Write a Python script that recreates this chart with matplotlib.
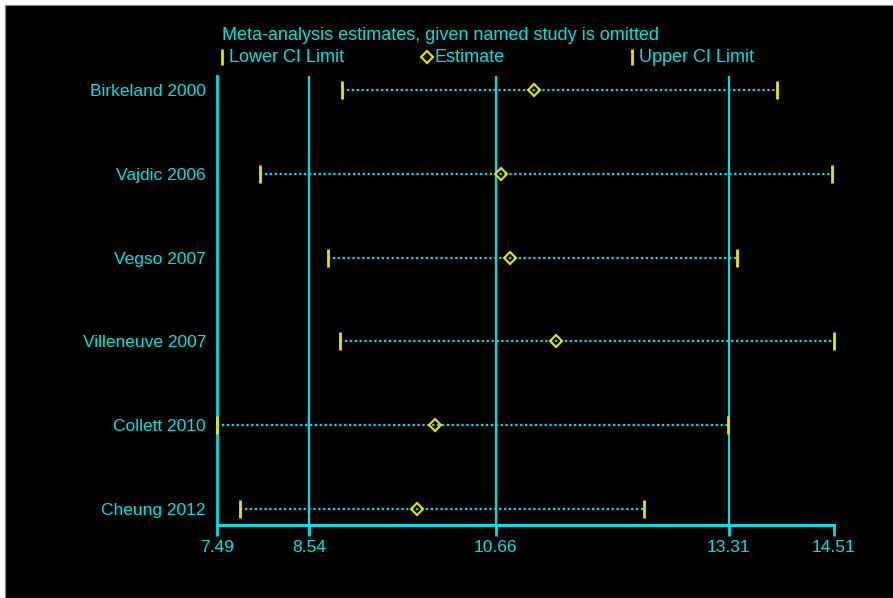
import matplotlib
matplotlib.use("Agg")
import matplotlib.pyplot as plt
from matplotlib.patches import Rectangle

# data
studies = ["Birkeland 2000", "Vajdic 2006", "Vegso 2007",
           "Villeneuve 2007", "Collett 2010", "Cheung 2012"]
lower = [8.91, 7.98, 8.75, 8.89, 7.49, 7.75]
estimate = [11.10, 10.72, 10.82, 11.35, 9.97, 9.77]
upper = [13.86, 14.49, 13.41, 14.51, 13.30, 12.35]
ticks = [7.49, 8.54, 10.66, 13.31, 14.51]
ref_lines = [8.54, 10.66, 13.31]

cyan = "#00e0e0"
yellow = "#e6e600"
plt.rcParams["font.family"] = ["Liberation Sans", "DejaVu Sans"]
fs = 12.5

W, H = 893, 598
fig = plt.figure(figsize=(W / 100, H / 100), dpi=100, facecolor="white")
# black panel behind everything
fig.patches.append(Rectangle((5 / W, 0), 1, 1 - 5 / H, transform=fig.transFigure,
                             facecolor="black", edgecolor="#888888", lw=0.8,
                             zorder=-10))

ax = fig.add_axes([217 / W, (H - 525) / H, 617 / W, (525 - 76) / H])
ax.set_facecolor("none")
ax.set_xlim(7.49, 14.51)
ax.set_ylim(0.809, 6.167)
for s in ["top", "right", "left"]:
    ax.spines[s].set_visible(False)
ax.spines["bottom"].set_color(cyan)
ax.spines["bottom"].set_linewidth(2.2)

ax.axvline(7.49, color=cyan, lw=2, clip_on=False)
for v in ref_lines:
    ax.axvline(v, color=cyan, lw=1.6)

ys = [6 - i for i in range(len(studies))]
for y, lo, est, up in zip(ys, lower, estimate, upper):
    ax.plot([lo, up], [y, y], color=cyan, lw=1.6, ls=(0, (1, 1.2)), zorder=2)
    ax.plot([lo, up], [y, y], ls="none", marker="|", ms=13, mew=2,
            color=yellow, zorder=3, clip_on=False)
    ax.plot(est, y, ls="none", marker="D", ms=6.5, mfc="none", mec=yellow,
            mew=1.5, zorder=4)

ax.set_yticks(ys)
ax.set_yticklabels(studies, color=cyan, fontsize=fs)
ax.tick_params(axis="y", length=0, pad=8)
ax.set_xticks(ticks)
ax.set_xticklabels([f"{t:.2f}" for t in ticks], color=cyan, fontsize=fs)
ax.tick_params(axis="x", length=8, width=2, color=cyan, direction="out", pad=3)

# title and legend
fig.text(222 / W, 1 - 35 / H, "Meta-analysis estimates, given named study is omitted",
         color=cyan, fontsize=13, va="center", ha="left")
ly = 1 - 57 / H
for mx, mk, label in [(222, "|", "Lower CI Limit"), (427, "D", "Estimate"),
                      (632, "|", "Upper CI Limit")]:
    if mk == "|":
        fig.lines.append(plt.Line2D([mx / W], [ly], marker="|", ms=12, mew=2,
                                    color=yellow, transform=fig.transFigure))
    else:
        fig.lines.append(plt.Line2D([mx / W], [ly], marker="D", ms=6, mfc="none",
                                    mec=yellow, mew=1.5, transform=fig.transFigure))
    fig.text((mx + 7) / W, ly, label, color=cyan, fontsize=13, va="center", ha="left")

fig.savefig("out.png", dpi=100, facecolor="white")
